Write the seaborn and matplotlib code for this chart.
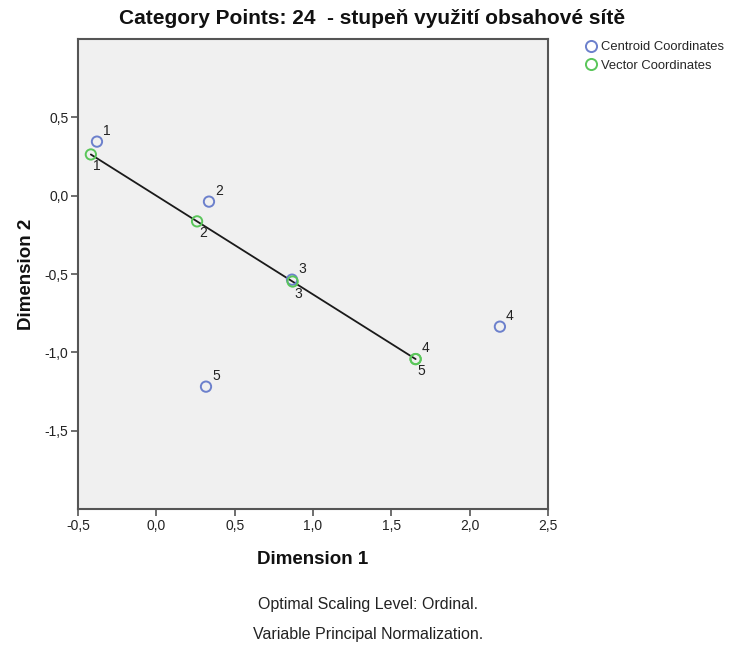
import matplotlib
matplotlib.use("Agg")
import matplotlib.pyplot as plt
from matplotlib.lines import Line2D
import seaborn as sns
import pandas as pd

# Category labels (ordinal categories of variable 24)
categories = ["1", "2", "3", "4", "5"]

# Centroid coordinates per category
centroid_dim1 = [-0.379, 0.336, 0.866, 2.193, 0.317]
centroid_dim2 = [0.345, -0.038, -0.536, -0.836, -1.219]

# Vector coordinates per category (lie on a line through the origin)
vector_dim1 = [-0.418, 0.260, 0.870, 1.655, 1.655]
vector_dim2 = [0.263, -0.164, -0.548, -1.043, -1.043]

x_ticks = [-0.5, 0.0, 0.5, 1.0, 1.5, 2.0, 2.5]
y_ticks = [0.5, 0.0, -0.5, -1.0, -1.5]

title = "Category Points: 24  - stupeň využití obsahové sítě"
notes = ["Optimal Scaling Level: Ordinal.", "Variable Principal Normalization."]

BLUE = "#6c80cc"
GREEN = "#5ac65a"
FONT = ["Liberation Sans", "DejaVu Sans"]

sns.set_theme(style="white")
plt.rcParams["font.family"] = FONT

centroids = pd.DataFrame({"dim1": centroid_dim1, "dim2": centroid_dim2, "cat": categories})
vectors = pd.DataFrame({"dim1": vector_dim1, "dim2": vector_dim2, "cat": categories})

fig = plt.figure(figsize=(7.36, 6.45), dpi=100)
ax = fig.add_axes([78 / 736, 1 - 509 / 645, 470 / 736, 470 / 645])
ax.set_facecolor("#f0f0f0")

# Vector line from the first to the last category
sns.lineplot(x=[vector_dim1[0], vector_dim1[-1]], y=[vector_dim2[0], vector_dim2[-1]],
             ax=ax, color="#1a1a1a", linewidth=1.3, sort=False, zorder=2)

sns.scatterplot(data=centroids, x="dim1", y="dim2", ax=ax, marker="o", s=55,
                facecolor="none", edgecolor=BLUE, linewidth=1.4, zorder=3)
sns.scatterplot(data=vectors, x="dim1", y="dim2", ax=ax, marker="o", s=55,
                facecolor="none", edgecolor=GREEN, linewidth=1.4, zorder=4)

# Category labels
for x, y, c in zip(centroid_dim1, centroid_dim2, categories):
    ax.annotate(c, (x, y), textcoords="offset pixels", xytext=(6, 4),
                ha="left", va="bottom", fontsize=10, color="#222222")
for x, y, c in zip(vector_dim1, vector_dim2, categories):
    if c == "4":
        off, va = (6, 4), "bottom"
    else:
        off, va = (2, -5), "top"
    ax.annotate(c, (x, y), textcoords="offset pixels", xytext=off,
                ha="left", va=va, fontsize=10, color="#222222")

ax.set_xlim(-0.5, 2.5)
ax.set_ylim(-2.0, 1.0)
ax.set_xticks(x_ticks)
ax.set_xticklabels([f"{v:.1f}".replace(".", ",") for v in x_ticks])
ax.set_yticks(y_ticks)
ax.set_yticklabels([f"{v:.1f}".replace(".", ",") for v in y_ticks])
ax.tick_params(axis="both", which="major", direction="out", length=5, width=1.2,
               color="#555555", labelsize=10, labelcolor="#222222", pad=2,
               bottom=True, left=True)
for s in ax.spines.values():
    s.set_color("#555555")
    s.set_linewidth(1.5)

ax.set_xlabel("Dimension 1", fontsize=13.5, fontweight="bold", labelpad=13, color="#111111")
ax.set_ylabel("Dimension 2", fontsize=13.5, fontweight="bold", labelpad=7, color="#111111")

fig.text(0.505, 1 - 19 / 645, title, ha="center", va="center", fontsize=15,
         fontweight="bold", color="#111111")
fig.text(0.5, 1 - 604 / 645, notes[0], ha="center", va="center", fontsize=11.5, color="#222222")
fig.text(0.5, 1 - 634 / 645, notes[1], ha="center", va="center", fontsize=11.5, color="#222222")

handles = [
    Line2D([], [], marker="o", linestyle="none", markersize=8, markerfacecolor="none",
           markeredgecolor=BLUE, markeredgewidth=1.4, label="Centroid Coordinates"),
    Line2D([], [], marker="o", linestyle="none", markersize=8, markerfacecolor="none",
           markeredgecolor=GREEN, markeredgewidth=1.4, label="Vector Coordinates"),
]
fig.legend(handles=handles, loc="upper left", bbox_to_anchor=(586 / 736, 1 - 41 / 645),
           frameon=False, fontsize=9.4, handlelength=0.8, handletextpad=0.35,
           labelspacing=0.5, borderpad=0, borderaxespad=0)

fig.savefig("out.png", dpi=100)
